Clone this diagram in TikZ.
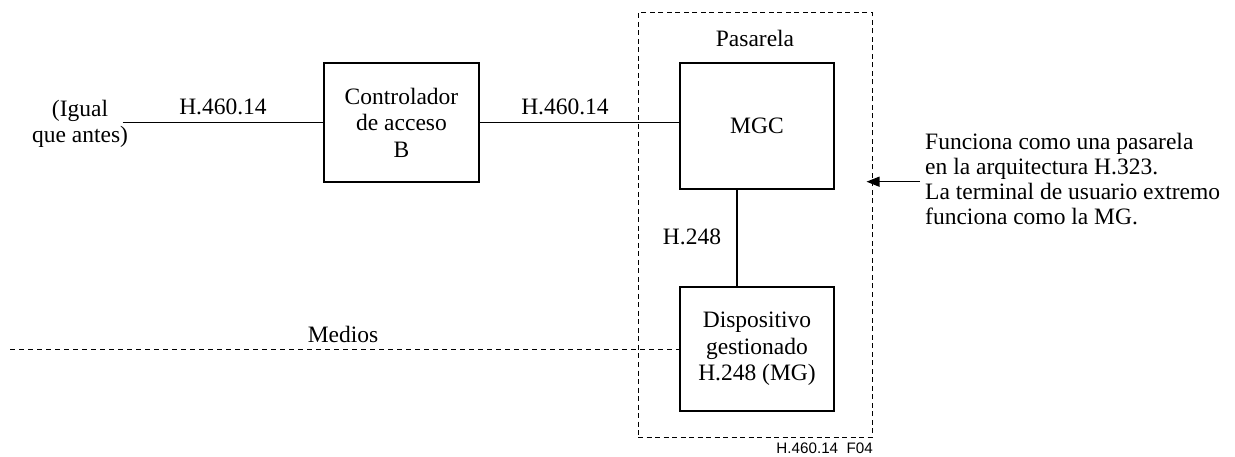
\documentclass[tikz,border=0pt]{standalone}
\usepackage{fontspec}
\setmainfont{Liberation Serif}
\newfontfamily\figsans{Liberation Sans}
\usetikzlibrary{arrows.meta}

\begin{document}
\begin{tikzpicture}[x=1pt,y=-1pt,
  every node/.style={font=\fontsize{23.5}{26.5}\selectfont, inner sep=0pt},
  blk/.style={draw, line width=2.3pt, align=center},
  dashbox/.style={draw, line width=1pt, dash pattern=on 5pt off 3.5pt},
  link/.style={line width=1.2pt},
  medialine/.style={line width=1pt, dash pattern=on 5pt off 4pt},
  arrowlink/.style={link, -{Triangle[length=13pt,width=10pt]}},
  multi/.style={align=center},
  note/.style={align=left, font=\fontsize{23.5}{25}\selectfont},
  figid/.style={font=\figsans\fontsize{15.2}{17}\selectfont}
]
\useasboundingbox (0,0) rectangle (1235,457);

% gateway boundary
\node[dashbox, minimum width=234pt, minimum height=424pt] (pas) at (755,225) {};
\node[anchor=base] (pastxt) at (755,46.7) {Pasarela};

% functional blocks
\node[blk, minimum width=155pt, minimum height=119pt] (ctrl) at (401.5,122.5)
  {Controlador\\de acceso\\B};
\node[blk, minimum width=154pt, minimum height=126pt] (mgc) at (757,126) {MGC};
\node[blk, minimum width=154pt, minimum height=124pt] (disp) at (757,349)
  {Dispositivo\\gestionado\\H.248 (MG)};

% left-hand endpoint
\node[multi] (igual) at (80,124) {(Igual\hspace{14pt}\\que antes)};
\coordinate (lin) at (122.7,122.5);

% signalling links
\draw[link] (lin) -- (ctrl.west);
\draw[link] (ctrl.east) -- (ctrl.east -| mgc.west);
\coordinate (vx) at (737,0);
\draw[link] (mgc.south -| vx) -- (disp.north -| vx);

\node[anchor=base] (l1) at (223,115) {H.460.14};
\node[anchor=base] (l2) at (565,115) {H.460.14};
\node[anchor=base] (l3) at (692,245) {H.248};

% media path
\coordinate (medL) at (10,349);
\draw[medialine] (medL) -- (disp.west);
\node[anchor=base] (med) at (343,342) {Medios};

% explanatory note
\node[note, anchor=north west] (nota) at (925,133)
  {Funciona como una pasarela\\en la arquitectura H.323.\\La terminal de usuario extremo\\funciona como la MG.};
\coordinate (arrS) at (920,181.7);
\draw[arrowlink] (arrS) -- ([xshift=-6pt]pas.east |- arrS);

% figure identifier
\node[figid, anchor=base east] (fid) at (873,453) {H.460.14\ \ F04};
\end{tikzpicture}
\end{document}
